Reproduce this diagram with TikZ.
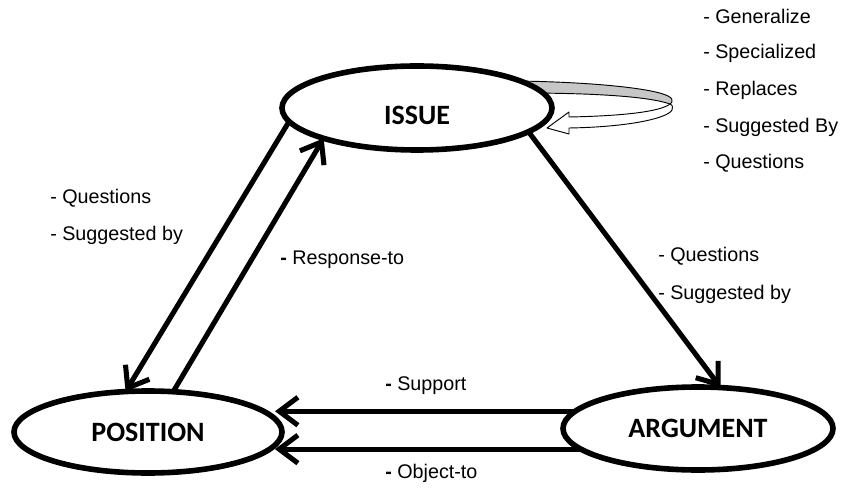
\documentclass[tikz,border=0pt]{standalone}
\usepackage{fontspec}
\setmainfont{Liberation Sans}
\newfontfamily\titlefont{Carlito}
\usetikzlibrary{arrows.meta,shapes.geometric,calc}
\begin{document}
\begin{tikzpicture}[x=0.75pt,y=-0.75pt,
  ell/.style={ellipse, draw, line width=4.2pt, fill=white, inner sep=0pt, outer sep=0pt,
    font=\titlefont\bfseries\fontsize{21}{25}\selectfont},
  conn/.style={line width=3.8pt, -{Straight Barb[length=14pt,width=21pt]}},
  lbl/.style={anchor=west, inner sep=0pt, font=\fontsize{14.8}{17}\selectfont},
  loopband/.style={draw=black, line width=0.7pt, fill=black!22, line join=round},
  looparrow/.style={draw=black, line width=0.7pt, fill=white, line join=round}]
\useasboundingbox (0,0) rectangle (845,488);

% self loop on ISSUE (drawn beneath the ellipse)
\path[loopband] (515,81) .. controls (600,82) and (672,90) .. (672,100)
   .. controls (672,102) and (672,103) .. (670,104)
   .. controls (650,97) and (600,93) .. (520,93) -- cycle;
\path[looparrow] (670,104) .. controls (660,112) and (620,116) .. (569,117)
   -- (569,112) -- (547,128) -- (569,134) -- (569,128)
   .. controls (630,127) and (668,118) .. (672,110)
   .. controls (673,106) and (672,104) .. (670,104) -- cycle;

% nodes
\node[ell, minimum width=202.5pt, minimum height=63pt, text height=25.5pt, text depth=0pt] (issue) at (417,108) {ISSUE};
\node[ell, minimum width=201pt, minimum height=61.5pt] (position) at (148,432) {POSITION};
\node[ell, minimum width=202.5pt, minimum height=62.25pt] (argument) at (698,428.5) {ARGUMENT};

% connectors
\draw[conn] (issue.186.4) -- (position.119.6);
\draw[conn] (position.58.2) -- (issue.198.5);
\draw[conn] (issue.-12.5) -- (argument.61.7);
\draw[conn] (argument.172.9) -- ($(argument.172.9 -| position.east)+(-7,0)$);
\draw[conn] (argument.190.5) -- ($(argument.190.5 -| position.east)+(-7,0)$);

% labels
\node[lbl] (l1) at (703,16) {- Generalize};
\node[lbl] (l2) at (703,53) {- Specialized};
\node[lbl] (l3) at (703,90) {- Replaces};
\node[lbl] (l4) at (703,127) {- Suggested By};
\node[lbl] (l5) at (703,163) {- Questions};

\node[lbl] (q1) at (50,198) {- Questions};
\node[lbl] (q2) at (50,235) {- Suggested by};
\node[lbl] (r1) at (280,260) {{\bfseries -} Response-to};

\node[lbl] (q3) at (658,256) {- Questions};
\node[lbl] (q4) at (658,294) {- Suggested by};

\node[lbl] (s1) at (385,386) {{\bfseries -} Support};
\node[lbl] (o1) at (385,473) {{\bfseries -} Object-to};
\end{tikzpicture}
\end{document}
